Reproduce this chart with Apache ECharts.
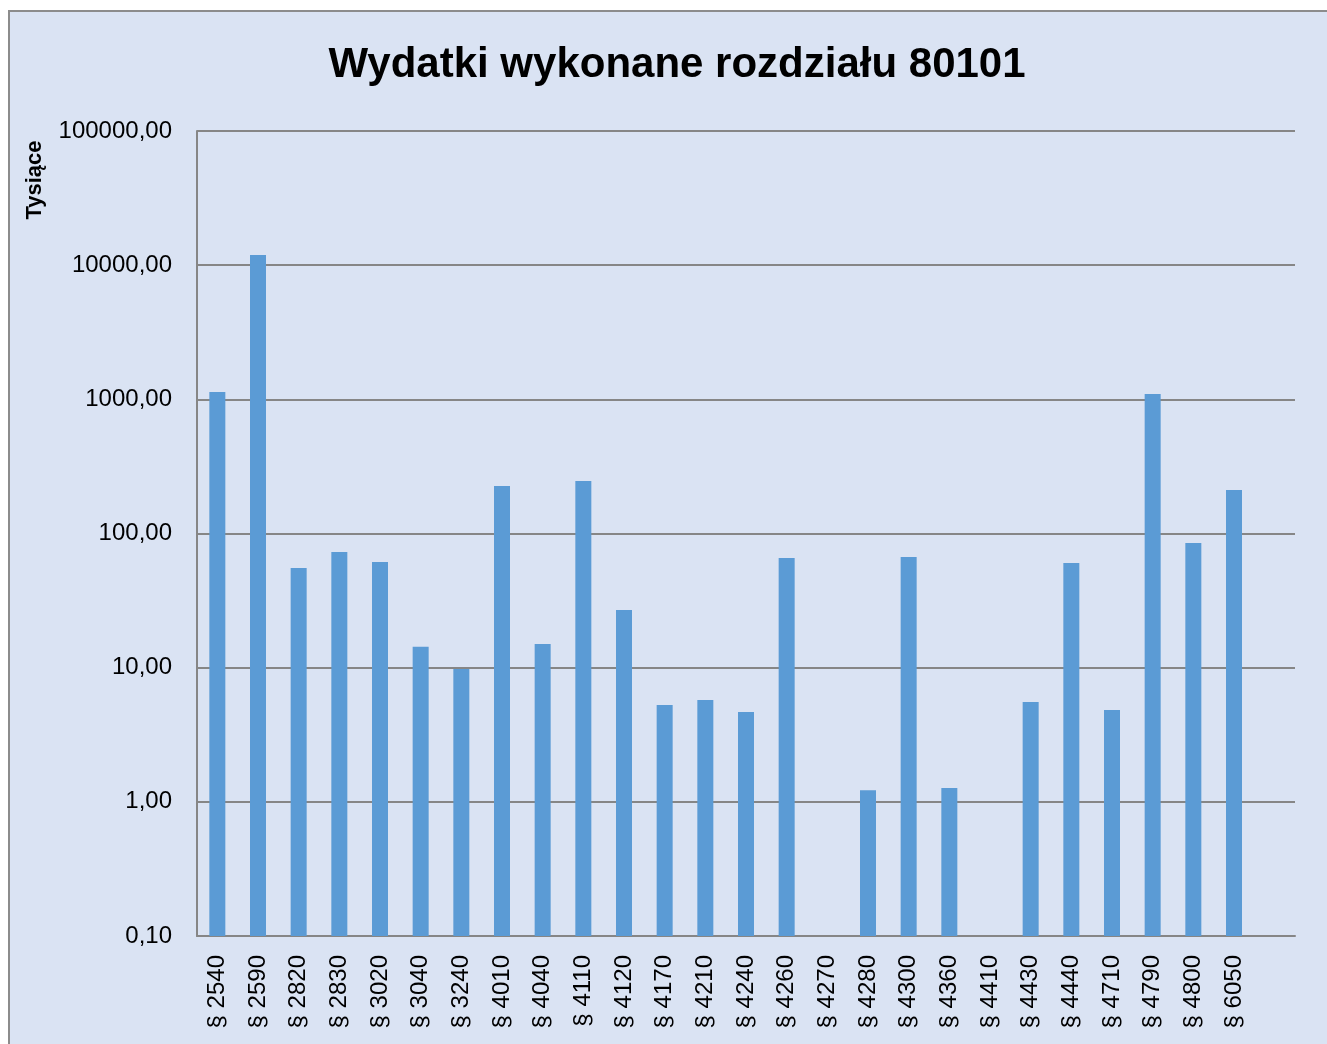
<!DOCTYPE html>
<html>
<head>
<meta charset="utf-8">
<script src="https://cdn.jsdelivr.net/npm/echarts@6/dist/echarts.min.js"></script>
<style>
  html, body { margin: 0; padding: 0; background: #fff; }
  #chart { width: 1327px; height: 1044px; }
</style>
</head>
<body>
<div id="chart"></div>
<script>
// paragraphs (last one is an empty slot, as in the original sheet)
var categories = ['§ 2540', '§ 2590', '§ 2820', '§ 2830', '§ 3020', '§ 3040', '§ 3240', '§ 4010',
  '§ 4040', '§ 4110', '§ 4120', '§ 4170', '§ 4210', '§ 4240', '§ 4260', '§ 4270', '§ 4280',
  '§ 4300', '§ 4360', '§ 4410', '§ 4430', '§ 4440', '§ 4710', '§ 4790', '§ 4800', '§ 6050', '']
// thousands
var wydatki = [1135, 11900, 55.3, 72.8, 61.3, 14.3, 9.78, 226,
  15.0, 246, 26.9, 5.27, 5.74, 4.67, 65.7, null, 1.22,
  66.8, 1.27, null, 5.55, 60.3, 4.83, 1096, 84.9, 211, null]
// log10 of axis range: 0,10 .. 100000,00
var yMinExp = -1
var yMaxExp = 5

var chart = echarts.init(document.getElementById('chart'))
var font = '"Liberation Sans", Arial, sans-serif'

// bars have to grow from 0,10 (bottom of the log axis), so the axis counts
// decades above the minimum: 0 = 0,10, 6 = 100000,00
var barData = wydatki.map(function (v) {
  return v == null ? null : Math.log10(v) - yMinExp
})

chart.setOption({
  backgroundColor: '#fff',
  animation: false,
  graphic: [
    {
      type: 'rect', z: -10,
      shape: { x: 9, y: 11, width: 1400, height: 1100 },
      style: { fill: '#dae3f3', stroke: '#8c8c8c', lineWidth: 2 }
    },
    {
      type: 'text', x: 35, y: 180, rotation: Math.PI / 2,
      style: {
        text: 'Tysiące', font: 'bold 22px ' + font, fill: '#000',
        align: 'center', verticalAlign: 'middle'
      }
    }
  ],
  title: {
    text: 'Wydatki wykonane rozdziału 80101',
    left: 672, top: 39, textAlign: 'center',
    textStyle: { fontFamily: font, fontWeight: 'bold', fontSize: 42, color: '#000' }
  },
  grid: { left: 197, top: 131, right: 32, bottom: 108 },
  xAxis: {
    type: 'category',
    data: categories,
    axisLine: { lineStyle: { color: '#868686', width: 2 } },
    axisTick: { show: false },
    axisLabel: {
      interval: 0, rotate: 90, margin: 19,
      fontFamily: font, fontSize: 24, color: '#000'
    }
  },
  yAxis: {
    type: 'value',
    min: 0,
    max: yMaxExp - yMinExp,
    interval: 1,
    axisLine: { show: true, lineStyle: { color: '#868686', width: 2 } },
    axisTick: { show: false },
    splitLine: { lineStyle: { color: '#868686', width: 2 } },
    axisLabel: {
      margin: 25, fontFamily: font, fontSize: 24, color: '#000',
      formatter: function (e) {
        return Math.pow(10, e + yMinExp).toFixed(2).replace('.', ',')
      }
    }
  },
  series: [{
    type: 'bar',
    data: barData,
    barWidth: 16,
    itemStyle: { color: '#5b9bd5' }
  }]
})
</script>
</body>
</html>
